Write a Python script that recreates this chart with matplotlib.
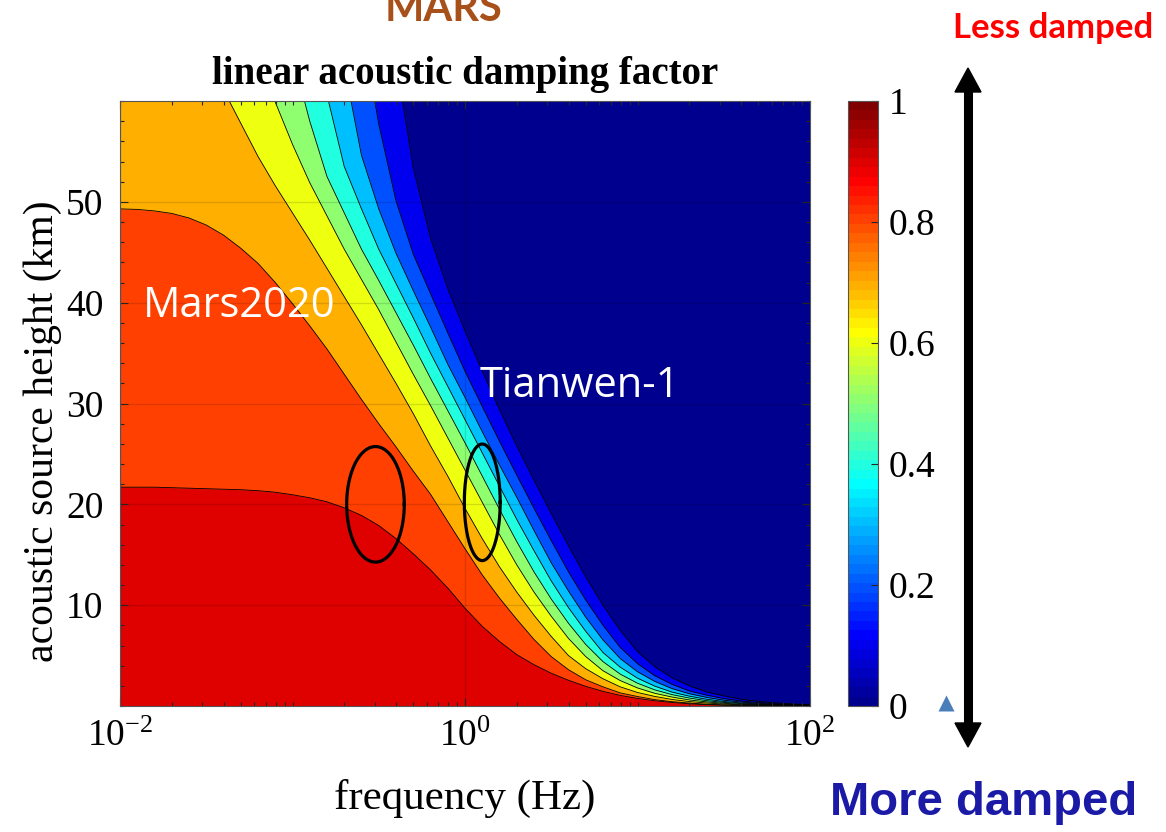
import numpy as np
import matplotlib
matplotlib.use('Agg')
import matplotlib.pyplot as plt
from matplotlib.colors import ListedColormap, Normalize
from matplotlib.cm import ScalarMappable
from matplotlib.patches import Polygon
from matplotlib.ticker import FixedLocator, LogLocator, MultipleLocator, NullFormatter, FuncFormatter

plt.rcParams['font.family'] = ['Liberation Serif', 'DejaVu Sans']

# frequency grid (log10 Hz)
log_freq = np.linspace(-2, 2, 41)
freq = 10 ** log_freq

# lower bound of each filled band of the damping factor
levels = [0.1, 0.2, 0.3, 0.4, 0.5, 0.6, 0.7, 0.8, 0.9]

# height (km) of each contour level along the frequency grid, 60 = top of the plot
h_01 = [60] * 16 + [64.0, 53.4, 46.4, 41.4, 37.2, 33.2, 29.4, 25.8, 22.4, 19.1, 15.9, 12.8,
                    10.0, 7.5, 5.4, 3.9, 2.8, 2.0, 1.4, 1.0, 0.68, 0.46, 0.31, 0.2, 0.12]
h_02 = [60] * 14 + [67.7, 57.7, 50.1, 44.8, 40.9, 37.0, 33.2, 29.7, 26.25, 22.9, 19.6, 16.4,
                    13.3, 10.5, 8.0, 5.8, 4.2, 3.0, 2.15, 1.5, 1.08, 0.74, 0.5, 0.34, 0.22,
                    0.14, 0.09]
h_03 = [60] * 13 + [63.5, 54.6, 49.3, 44.9, 41.2, 37.6, 33.9, 30.6, 27.2, 23.9, 20.7, 17.4,
                    14.2, 11.4, 8.8, 6.55, 4.7, 3.4, 2.44, 1.73, 1.22, 0.86, 0.58, 0.39, 0.26,
                    0.17, 0.11, 0.07]
h_04 = [60] * 12 + [60.6, 53.5, 49.3, 45.3, 41.9, 38.5, 35.0, 31.7, 28.4, 25.1, 21.8, 18.5,
                    15.4, 12.4, 9.75, 7.4, 5.3, 3.85, 2.76, 1.97, 1.38, 0.98, 0.67, 0.45, 0.3,
                    0.2, 0.12, 0.08, 0.05]
h_05 = [60] * 10 + [64.5, 58.0, 52.5, 48.9, 45.3, 42.2, 39.0, 35.8, 32.5, 29.3, 26.1, 22.8,
                    19.5, 16.3, 13.3, 10.6, 8.2, 6.1, 4.4, 3.16, 2.26, 1.6, 1.13, 0.79, 0.53,
                    0.36, 0.24, 0.15, 0.1, 0.06, 0.04]
h_06 = [60] * 8 + [64.2, 59.9, 55.7, 51.9, 48.6, 45.3, 42.3, 39.3, 36.1, 32.9, 29.8, 26.6,
                   23.4, 20.2, 17.0, 14.0, 11.3, 8.9, 6.7, 4.9, 3.5, 2.52, 1.79, 1.26, 0.89,
                   0.6, 0.41, 0.27, 0.17, 0.11, 0.07, 0.04, 0.02]
h_07 = [60] * 6 + [61.1, 57.8, 54.5, 51.6, 48.9, 46.2, 43.4, 40.6, 37.8, 34.9, 32.0, 29.0,
                   25.8, 22.8, 19.6, 16.6, 13.8, 11.3, 9.0, 6.9, 5.0, 3.7, 2.7, 1.9, 1.34,
                   0.95, 0.65, 0.44, 0.3, 0.19, 0.12, 0.07, 0.04, 0.02, 0.01]
h_08 = [49.3, 49.25, 49.1, 48.85, 48.4, 47.7, 46.7, 45.4, 43.9, 42.0, 39.9, 37.7, 35.4, 32.9,
        30.4, 28.0, 25.7, 23.3, 21.0, 18.3, 15.6, 13.0, 10.7, 8.6, 6.6, 4.9, 3.6, 2.6, 1.9,
        1.3, 0.94, 0.63, 0.43, 0.29, 0.18, 0.11, 0.07, 0.04, 0.02, 0.01, 0.0]
h_09 = [21.7, 21.7, 21.7, 21.65, 21.6, 21.55, 21.5, 21.45, 21.35, 21.2, 20.95, 20.65, 20.25,
        19.65, 18.9, 17.9, 16.6, 15.1, 13.5, 11.7, 9.7, 7.9, 6.4, 5.1, 4.1, 3.25, 2.55, 1.95,
        1.45, 1.05, 0.75, 0.52, 0.35, 0.22, 0.13, 0.07, 0.04, 0.02, 0.01, 0.0, 0.0]
heights = [h_01, h_02, h_03, h_04, h_05, h_06, h_07, h_08, h_09]

# marked regions: centre (log10 Hz, km) and half axes (decades, km)
ring_logf = [-0.519, 0.100]
ring_h = [20.0, 20.2]
ring_dlogf = [0.167, 0.104]
ring_dh = [5.73, 5.78]

# mission labels
mission_names = ['Mars2020', 'Tianwen-1']
mission_logf = [-1.867, 0.087]
mission_h = [38.6, 30.6]


def matlab_jet(n=64):
    m = int(np.ceil(n / 4))
    u = np.r_[np.arange(1, m + 1) / m, np.ones(m - 1), np.arange(m, 0, -1) / m]
    g = int(np.ceil(m / 2)) - (n % 4 == 1) + np.arange(1, len(u) + 1)
    table = np.zeros((n, 3))
    for col, idx in enumerate((g + m, g, g - m)):
        ok = (idx >= 1) & (idx <= n)
        table[idx[ok] - 1, col] = u[ok]
    return table


jet64 = matlab_jet(64)

fig = plt.figure(figsize=(11.66, 8.32), dpi=100)
ax = fig.add_axes([120 / 1166, 126 / 832, 690 / 1166, 605 / 832])
ax.set_xscale('log')
ax.set_facecolor(jet64[0])

for v, h in zip(levels, heights):
    ax.fill_between(freq, 0, h, color=jet64[int(v * 64)], lw=0, zorder=1)
for h in heights:
    h = np.asarray(h, dtype=float)
    top = np.where(h >= 60)[0]
    start = top[-1] if len(top) else 0
    ax.plot(freq[start:], h[start:], color='k', lw=0.6, zorder=2)

t = np.linspace(0, 2 * np.pi, 300)
for c, ch, a, b in zip(ring_logf, ring_h, ring_dlogf, ring_dh):
    ax.plot(10 ** (c + a * np.cos(t)), ch + b * np.sin(t), color='k', lw=2.3, zorder=4)

for name, lf, hh in zip(mission_names, mission_logf, mission_h):
    ax.text(10 ** lf, hh, name, color='white', fontsize=30, family='Open Sans',
            ha='left', va='baseline', zorder=5)

ax.set_xlim(1e-2, 1e2)
ax.set_ylim(0, 60)
ax.xaxis.set_major_locator(FixedLocator([1e-2, 1e0, 1e2]))
ax.xaxis.set_minor_locator(LogLocator(base=10, subs=np.arange(1, 10)))
ax.xaxis.set_minor_formatter(NullFormatter())
ax.xaxis.set_major_formatter(FuncFormatter(
    lambda x, pos: r'$\mathregular{10^{%d}}$' % round(np.log10(x))))
ax.set_yticks([10, 20, 30, 40, 50])
ax.yaxis.set_minor_locator(MultipleLocator(2))
ax.tick_params(which='both', direction='in', top=True, right=True, color='#262626',
               width=0.8, labelsize=27)
ax.tick_params(which='major', length=6)
ax.tick_params(which='minor', length=3)
ax.tick_params(axis='x', pad=10)
ax.tick_params(axis='y', pad=12)
ax.set_axisbelow(False)
ax.grid(True, which='major', color='k', alpha=0.13, lw=1.0)
for s in ax.spines.values():
    s.set_color('#555555')
    s.set_linewidth(0.8)
    s.set_zorder(6)

ax.set_xlabel('frequency (Hz)', fontsize=31, labelpad=18)
ax.set_ylabel('acoustic source height (km)', fontsize=30)
ax.yaxis.set_label_coords(-0.084, 0.455)
ax.set_title('linear acoustic damping factor', fontsize=28, fontweight='bold', pad=12)

# colour bar
cax = fig.add_axes([848 / 1166, 126 / 832, 30 / 1166, 605 / 832])
cb = fig.colorbar(ScalarMappable(norm=Normalize(0, 1), cmap=ListedColormap(jet64)),
                  cax=cax, ticks=[0, 0.2, 0.4, 0.6, 0.8, 1])
cb.ax.set_yticklabels(['0', '0.2', '0.4', '0.6', '0.8', '1'])
cb.ax.tick_params(direction='in', length=5, width=0.8, color='#262626', labelsize=27, pad=8)
cb.outline.set_linewidth(0.8)
cb.outline.set_edgecolor('#555555')

# overlay in pixel units for the side annotations
ov = fig.add_axes([0, 0, 1, 1], zorder=10)
ov.set_xlim(0, 1166)
ov.set_ylim(832, 0)
ov.axis('off')
ov.plot([968, 968], [88, 727], color='k', lw=6.5, solid_capstyle='butt')
ov.add_patch(Polygon([[955, 92], [981, 92], [968, 68]], closed=True, color='k'))
ov.add_patch(Polygon([[955, 723], [981, 723], [968, 747]], closed=True, color='k'))
ov.plot(945.5, 703, marker='^', ms=12, color='#4a7ebb', mec='none')

ov.text(1053, 28, 'Less damped', color='#ff0000', fontsize=25, fontweight='bold',
        family='Lato', ha='center', va='center')
ov.text(984, 803, 'More damped', color='#1a1aa6', fontsize=34, fontweight='bold',
        family='Liberation Sans', ha='center', va='center')
ov.text(443, 21, 'MARS', color='#a8501a', fontsize=30, fontweight='bold',
        family='Lato', ha='center', va='baseline')

fig.savefig('out.png', dpi=100)
